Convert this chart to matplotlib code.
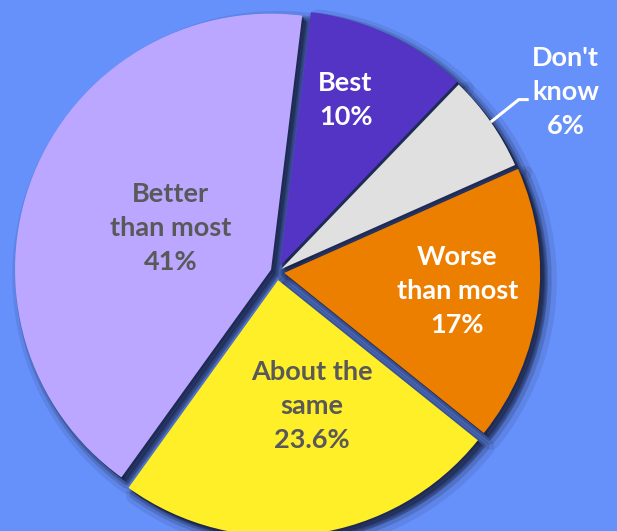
import numpy as np
import matplotlib.pyplot as plt

# Data (clockwise from the top)
labels = ['Best', "Don't\nknow", 'Worse\nthan most', 'About the\nsame', 'Better\nthan most']
values = [10, 6, 17, 23.6, 41]
pct_text = ['10%', '6%', '17%', '23.6%', '41%']
colors = ['#5434C5', '#E0E0E0', '#EC7E00', '#FFEF28', '#BBA7FF']
text_colors = ['white', 'white', 'white', '#595959', '#595959']
explode = [0.025, 0.02, 0.028, 0.032, 0.025]
label_dist = [0.70, 1.31, 0.68, 0.51, 0.425]
label_shift = [3.9, -3.1, 1.4, 7.1, -1.2]

bg = '#6690FA'
W, H = 617, 531
cx, cy = 277, H - 272
R = 256
start = 83.0

fig = plt.figure(figsize=(W / 100, H / 100), dpi=100, facecolor=bg)
ax = fig.add_axes([0, 0, 1, 1])

expl_px = [e * R for e in explode]

# soft drop shadow: offset dark pies, the wider ones with a fat edge for blur
shadow = '#141c3a'
for off, lw, a in [(7, 14, 0.1), (6, 8, 0.18), (5, 4, 0.28), (4, 0, 0.4), (2, 0, 0.5)]:
    ax.pie(values, colors=[shadow] * len(values), startangle=start, counterclock=False,
           explode=expl_px, radius=R, center=(cx + off, cy - off),
           wedgeprops={'alpha': a, 'linewidth': lw, 'edgecolor': shadow,
                       'joinstyle': 'round'}, frame=True)

wedges, _ = ax.pie(values, colors=colors, startangle=start, counterclock=False,
                   explode=expl_px, radius=R, center=(cx, cy),
                   wedgeprops={'linewidth': 0}, frame=True)
ax.set_xlim(0, W)
ax.set_ylim(0, H)
ax.set_aspect('equal')
ax.axis('off')

for i, w in enumerate(wedges):
    ang = np.deg2rad((w.theta1 + w.theta2) / 2 + label_shift[i])
    x = w.center[0] + R * label_dist[i] * np.cos(ang)
    y = w.center[1] + R * label_dist[i] * np.sin(ang)
    ax.text(x, y, labels[i] + '\n' + pct_text[i], ha='center', va='center',
            color=text_colors[i], fontsize=19.5, fontweight='bold', family='Lato',
            linespacing=1.5)

# leader line for the outside label
w = wedges[1]
ang = np.deg2rad((w.theta1 + w.theta2) / 2)
ex = w.center[0] + R * np.cos(ang)
ey = w.center[1] + R * np.sin(ang)
ang_l = np.deg2rad((w.theta1 + w.theta2) / 2 + label_shift[1])
lx = w.center[0] + R * label_dist[1] * np.cos(ang_l)
ly = w.center[1] + R * label_dist[1] * np.sin(ang_l)
ax.plot([ex, lx - 47, lx - 37], [ey, ly - 8, ly - 8], color='white', lw=2.2,
        solid_capstyle='butt')

fig.savefig('out.png', dpi=100, facecolor=bg)
